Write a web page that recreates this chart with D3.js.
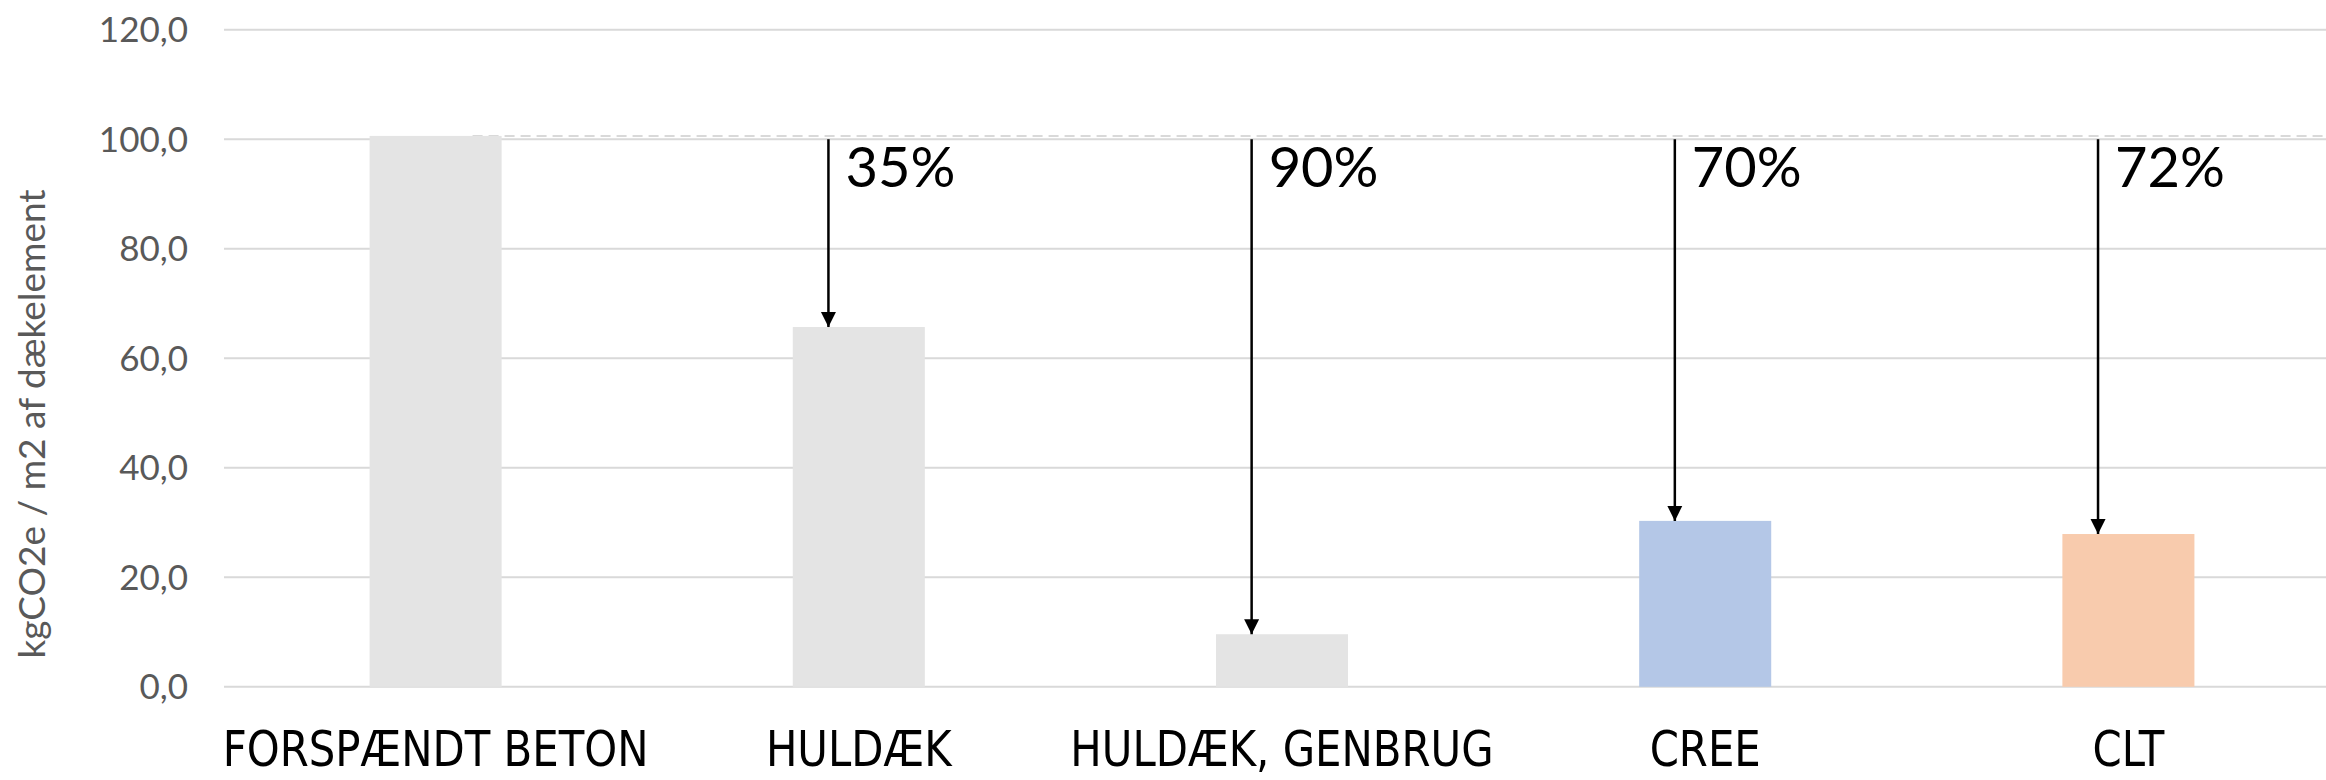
<!DOCTYPE html>
<html>
<head>
<meta charset="utf-8">
<script src="https://cdn.jsdelivr.net/npm/d3@7"></script>
<style>
  html, body { margin: 0; padding: 0; background: #ffffff; }
  svg { display: block; }
</style>
</head>
<body>
<svg id="chart" width="2326" height="780"></svg>
<script>
// ---- data ----
const categories = ["FORSPÆNDT BETON", "HULDÆK", "HULDÆK, GENBRUG", "CREE", "CLT"];
const values = [100.6, 65.7, 9.6, 30.3, 27.9];
const barColors = ["#e4e4e4", "#e4e4e4", "#e4e4e4", "#b4c7e7", "#f8cbad"];
const reductionLabels = [null, "35%", "90%", "70%", "72%"];
const yTicks = [0, 20, 40, 60, 80, 100, 120];
const yTitle = "kgCO2e / m2 af dækelement";
const arrowStart = 100;

// ---- layout ----
const svg = d3.select("#chart");
const plotLeft = 224, plotRight = 2340, plotTop = 29.7, plotBottom = 686.8;

const x = d3.scaleBand().domain(categories).range([plotLeft, plotRight])
  .paddingInner(0.688).paddingOuter(0.344);
const y = d3.scaleLinear().domain([0, 120]).range([plotBottom, plotTop]);

// gridlines
svg.append("g").selectAll("line").data(yTicks).join("line")
  .attr("x1", plotLeft).attr("x2", plotRight)
  .attr("y1", d => y(d)).attr("y2", d => y(d))
  .attr("stroke", "#d9d9d9").attr("stroke-width", 2);

// y axis tick labels
const fmt = d => d.toFixed(1).replace(".", ",");
svg.append("g").selectAll("text").data(yTicks).join("text")
  .attr("x", 188).attr("y", d => y(d))
  .attr("dy", "0.36em")
  .attr("text-anchor", "end")
  .attr("font-family", "Lato, 'Open Sans', sans-serif")
  .attr("font-size", 35)
  .attr("fill", "#595959")
  .text(fmt);

// y axis title
svg.append("text")
  .attr("transform", "translate(45,424) rotate(-90)")
  .attr("text-anchor", "middle")
  .attr("font-family", "Lato, 'Open Sans', sans-serif")
  .attr("font-size", 37)
  .attr("fill", "#595959")
  .text(yTitle);

// dashed reference line at first bar's value
svg.append("line")
  .attr("x1", x(categories[0]) + x.bandwidth() * 0.78).attr("x2", plotRight)
  .attr("y1", y(values[0])).attr("y2", y(values[0]))
  .attr("stroke", "#d9d9d9").attr("stroke-width", 2)
  .attr("stroke-dasharray", "10,6");

// bars
svg.append("g").selectAll("rect").data(categories).join("rect")
  .attr("x", d => x(d))
  .attr("width", x.bandwidth())
  .attr("y", (d, i) => y(values[i]))
  .attr("height", (d, i) => y(0) - y(values[i]))
  .attr("fill", (d, i) => barColors[i]);

// category labels (condensed a little to match the narrow original face)
svg.append("g").selectAll("text").data(categories).join("text")
  .attr("x", d => x(d) + x.bandwidth() / 2)
  .attr("y", 766)
  .attr("text-anchor", "middle")
  .attr("font-family", "'DejaVu Sans Condensed', 'DejaVu Sans', sans-serif")
  .attr("font-size", 50)
  .attr("fill", "#000000")
  .text(d => d)
  .each(function () {
    const w = this.getComputedTextLength();
    d3.select(this).attr("textLength", w * 0.93).attr("lengthAdjust", "spacingAndGlyphs");
  });

// arrows + reduction labels
const defs = svg.append("defs");
defs.append("marker")
  .attr("id", "ah").attr("viewBox", "0 0 10 10")
  .attr("refX", 10).attr("refY", 5)
  .attr("markerWidth", 15).attr("markerHeight", 16)
  .attr("markerUnits", "userSpaceOnUse")
  .attr("orient", "auto")
  .append("path").attr("d", "M0,0 L10,5 L0,10 Z").attr("fill", "#000");

const arrowIdx = categories.map((c, i) => i).filter(i => reductionLabels[i]);
const ax = i => x(categories[i]) + x.bandwidth() * 0.27;

svg.append("g").selectAll("line").data(arrowIdx).join("line")
  .attr("x1", ax).attr("x2", ax)
  .attr("y1", y(arrowStart)).attr("y2", i => y(values[i]))
  .attr("stroke", "#000").attr("stroke-width", 2.5)
  .attr("marker-end", "url(#ah)");

svg.append("g").selectAll("text").data(arrowIdx).join("text")
  .attr("x", i => ax(i) + 17)
  .attr("y", 187)
  .attr("font-family", "Lato, 'Open Sans', sans-serif")
  .attr("font-size", 56)
  .attr("fill", "#000")
  .text(i => reductionLabels[i]);
</script>
</body>
</html>
